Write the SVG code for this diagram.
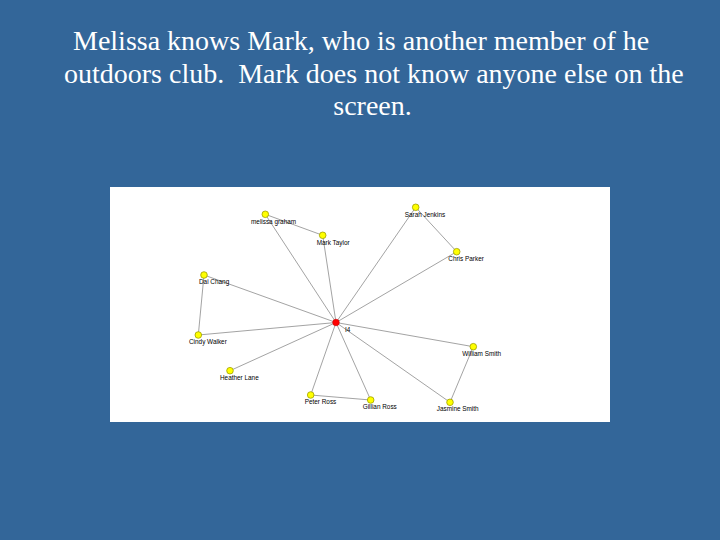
<svg xmlns="http://www.w3.org/2000/svg" width="720" height="540" viewBox="0 0 720 540">
<style>
.title{font-family:"Liberation Serif","Times New Roman",serif;font-size:28px;fill:#ffffff;white-space:pre}
.lbl{font-family:"Liberation Sans",Arial,sans-serif;font-size:6.4px;fill:#000000}
.edge{stroke:#8c8c8c;stroke-width:0.8;fill:none}
.yn{fill:#ffff00;stroke:#a0a000;stroke-width:0.8}
.rn{fill:#ff0000;stroke:#cc0000;stroke-width:0.6}
</style>
<rect x="0" y="0" width="720" height="540" fill="#336699"/>
<text class="title" x="73" y="50">Melissa knows Mark, who is another member of he</text>
<text class="title" x="64" y="83" xml:space="preserve">outdoors club.  Mark does not know anyone else on the</text>
<text class="title" x="372.5" y="115" text-anchor="middle">screen.</text>
<rect x="110" y="187" width="500" height="235" fill="#ffffff"/>
<g id="connectors">
<line class="edge" x1="336" y1="322.5" x2="265.3" y2="214.3"/>
<line class="edge" x1="336" y1="322.5" x2="322.7" y2="235.3"/>
<line class="edge" x1="265.3" y1="214.3" x2="322.7" y2="235.3"/>
<line class="edge" x1="336" y1="322.5" x2="415.7" y2="207.3"/>
<line class="edge" x1="415.7" y1="207.3" x2="456.7" y2="251.7"/>
<line class="edge" x1="336" y1="322.5" x2="456.7" y2="251.7"/>
<line class="edge" x1="336" y1="322.5" x2="204" y2="275"/>
<line class="edge" x1="204" y1="275" x2="198.3" y2="335"/>
<line class="edge" x1="336" y1="322.5" x2="198.3" y2="335"/>
<line class="edge" x1="336" y1="322.5" x2="230" y2="370.7"/>
<line class="edge" x1="336" y1="322.5" x2="310.7" y2="395"/>
<line class="edge" x1="310.7" y1="395" x2="370.7" y2="400"/>
<line class="edge" x1="336" y1="322.5" x2="370.7" y2="400"/>
<line class="edge" x1="336" y1="322.5" x2="473.3" y2="346.7"/>
<line class="edge" x1="473.3" y1="346.7" x2="450" y2="402.3"/>
<line class="edge" x1="336" y1="322.5" x2="450" y2="402.3"/>
</g>
<g id="melissa-graham"><circle class="yn" cx="265.3" cy="214.3" r="3.3"/><text class="lbl" x="251" y="223.5">melissa graham</text></g>
<g id="mark-taylor"><circle class="yn" cx="322.7" cy="235.3" r="3.3"/><text class="lbl" x="316.7" y="244.5">Mark Taylor</text></g>
<g id="sarah-jenkins"><circle class="yn" cx="415.7" cy="207.3" r="3.3"/><text class="lbl" x="404.7" y="216.5">Sarah Jenkins</text></g>
<g id="chris-parker"><circle class="yn" cx="456.7" cy="251.7" r="3.3"/><text class="lbl" x="448.3" y="261">Chris Parker</text></g>
<g id="dai-chang"><circle class="yn" cx="204" cy="275" r="3.3"/><text class="lbl" x="199" y="284.3">Dai Chang</text></g>
<g id="cindy-walker"><circle class="yn" cx="198.3" cy="335" r="3.3"/><text class="lbl" x="189" y="344.3">Cindy Walker</text></g>
<g id="heather-lane"><circle class="yn" cx="230" cy="370.7" r="3.3"/><text class="lbl" x="220" y="380.3">Heather Lane</text></g>
<g id="peter-ross"><circle class="yn" cx="310.7" cy="395" r="3.3"/><text class="lbl" x="304.7" y="403.6">Peter Ross</text></g>
<g id="gillian-ross"><circle class="yn" cx="370.7" cy="400" r="3.3"/><text class="lbl" x="362.7" y="409">Gillian Ross</text></g>
<g id="william-smith"><circle class="yn" cx="473.3" cy="346.7" r="3.3"/><text class="lbl" x="462.3" y="355.6">William Smith</text></g>
<g id="jasmine-smith"><circle class="yn" cx="450" cy="402.3" r="3.3"/><text class="lbl" x="436.7" y="411.3">Jasmine Smith</text></g>
<g id="i4"><circle class="rn" cx="336" cy="322.5" r="3.3"/><text class="lbl" x="345" y="331.8">I4</text></g>
</svg>
